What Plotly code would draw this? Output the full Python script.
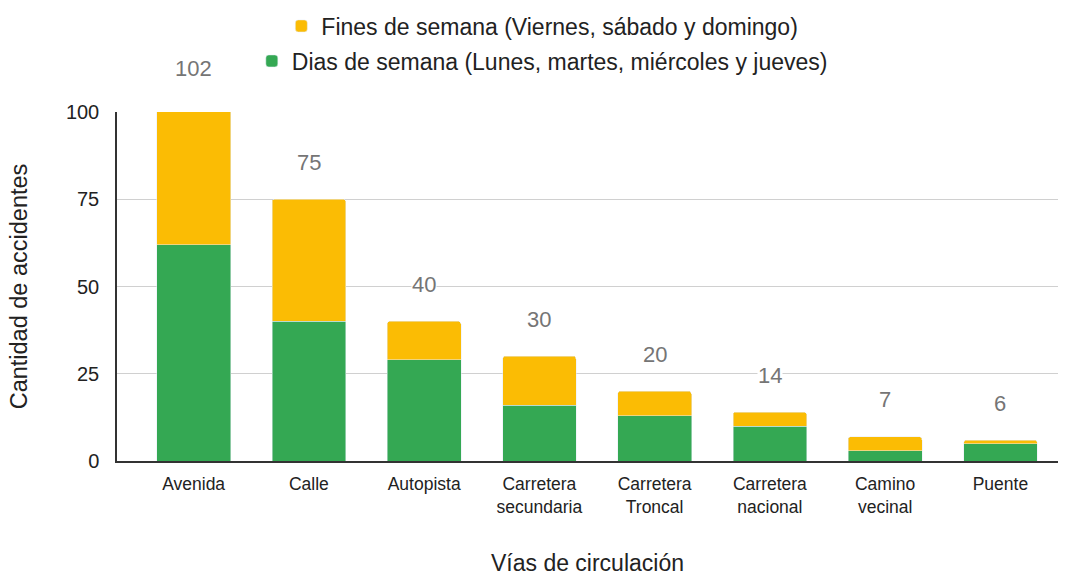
import plotly.graph_objects as go

categories = ["Avenida", "Calle", "Autopista", "Carretera<br>secundaria", "Carretera<br>Troncal",
              "Carretera<br>nacional", "Camino<br>vecinal", "Puente"]
dias_semana = [62, 40, 29, 16, 13, 10, 3, 5]
fines_semana = [40, 35, 11, 14, 7, 4, 4, 1]
totals = [102, 75, 40, 30, 20, 14, 7, 6]
y_ticks = [0, 25, 50, 75, 100]
y_max = 100

FONT = "Liberation Sans, Arial, sans-serif"
GREEN = "#34A853"
ORANGE = "#FBBC04"

fig = go.Figure()
fig.add_trace(go.Bar(x=categories, y=dias_semana, name="Dias de semana (Lunes, martes, miércoles y jueves)",
                     marker_color=GREEN, width=0.64, legend="legend2"))
fig.add_trace(go.Bar(x=categories, y=fines_semana, name="Fines de semana (Viernes, sábado y domingo)",
                     marker_color=ORANGE, width=0.64, legend="legend"))

for c, t in zip(categories, totals):
    fig.add_annotation(x=c, xref="x", y=t / y_max, yref="paper", text=str(t), showarrow=False,
                       yshift=37, yanchor="middle",
                       font=dict(family=FONT, size=22, color="#757575"), bgcolor="white",
                       borderpad=0)

fig.update_layout(
    barmode="stack",
    barcornerradius=3,
    showlegend=True,
    width=1068, height=576,
    margin=dict(l=117, r=10, t=112, b=115, autoexpand=False),
    plot_bgcolor="white", paper_bgcolor="white",
    font=dict(family=FONT, color="#222222"),
    legend=dict(x=0.452, y=1 - 26 / 576, xanchor="center", yanchor="middle", yref="container",
                orientation="h", visible=True,
                font=dict(family=FONT, size=23, color="#222222"), bgcolor="rgba(0,0,0,0)"),
    legend2=dict(x=0.452, y=1 - 61 / 576, xanchor="center", yanchor="middle", yref="container",
                 orientation="h", visible=True,
                 font=dict(family=FONT, size=23, color="#222222"), bgcolor="rgba(0,0,0,0)"),
    xaxis=dict(range=[-0.665, 7.5], showline=True, linecolor="#333333", linewidth=1.5,
               tickfont=dict(family=FONT, size=17.5, color="#222222"), ticks="", ticklabelstandoff=6,
               automargin=False,
               title=dict(text="Vías de circulación", font=dict(family=FONT, size=23, color="#222222"),
                          standoff=53)),
    yaxis=dict(range=[0, y_max], tickvals=y_ticks, showline=True, linecolor="#333333", linewidth=1.5,
               gridcolor="#d0d0d0", zeroline=False, automargin=False,
               tickfont=dict(family=FONT, size=20, color="#222222"), ticks="", ticklabelstandoff=12,
               title=dict(text="Cantidad de accidentes", font=dict(family=FONT, size=23.5, color="#222222"),
                          standoff=32)),
)

fig.write_html("out.html", post_script="document.body.style.margin='0';",
               config={"displayModeBar": False})
